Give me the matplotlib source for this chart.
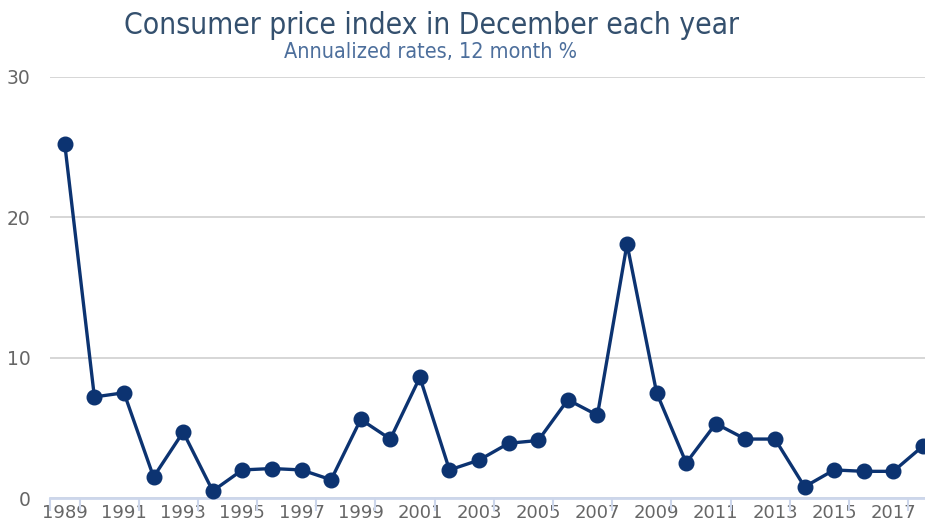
import numpy as np
import matplotlib
matplotlib.use("Agg")
import matplotlib.pyplot as plt

years = list(range(1989, 2019))
cpi = [25.2, 7.2, 7.5, 1.5, 4.7, 0.5, 2.0, 2.1, 2.0, 1.3,
       5.6, 4.2, 8.6, 2.0, 2.7, 3.9, 4.1, 7.0, 5.9, 18.1,
       7.5, 2.5, 5.3, 4.2, 4.2, 0.8, 2.0, 1.9, 1.9, 3.7]
title = "Consumer price index in December each year"
subtitle = "Annualized rates, 12 month %"

W, H = 925, 523
fig = plt.figure(figsize=(W / 100, H / 100), dpi=100)
ax = fig.add_axes([50 / W, 25 / H, 875 / W, 421 / H])

x = np.arange(len(years))
ax.plot(x, cpi, color="#0c3371", lw=2.4, marker="o", ms=10.5,
        clip_on=False, zorder=3)

ax.set_xlim(-0.5, 29.07)
ax.set_ylim(0, 30)
ax.set_yticks([0, 10, 20, 30])
ax.yaxis.grid(True, color="#d3d3d3", lw=1.3)
ax.set_axisbelow(True)

# labels at every second year, tick marks on category boundaries
ax.set_xticks(x[::2])
ax.set_xticklabels([str(y) for y in years[::2]])
ax.set_xticks([-0.5] + list(np.arange(0.5, 29, 2)), minor=True)
ax.tick_params(axis="x", which="major", length=0, pad=4,
               labelsize=13, labelcolor="#666666")
ax.tick_params(axis="x", which="minor", length=9, width=1.5, color="#ccd6eb")
ax.tick_params(axis="y", length=0, pad=14, labelsize=13.5, labelcolor="#666666")

for s in ["top", "right", "left"]:
    ax.spines[s].set_visible(False)
ax.spines["bottom"].set_color("#ccd6eb")
ax.spines["bottom"].set_linewidth(2)

fig.text(431 / W, 1 - 25 / H, title, ha="center", va="center",
         fontsize=21.5, color="#34506e", fontstretch="condensed",
         family=["DejaVu Sans"])
fig.text(431 / W, 1 - 52 / H, subtitle, ha="center", va="center",
         fontsize=15.5, color="#4d6f9c", fontstretch="condensed",
         family=["DejaVu Sans"])

fig.savefig("out.png", dpi=100)
